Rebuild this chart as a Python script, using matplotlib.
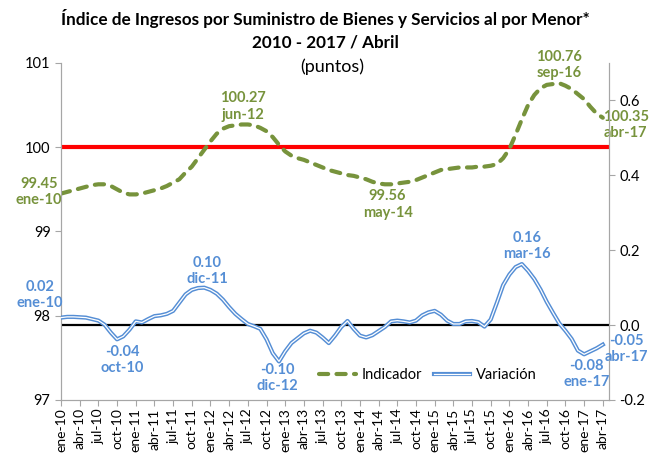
import matplotlib
matplotlib.use("Agg")
import matplotlib.pyplot as plt
import matplotlib.patheffects as pe

plt.rcParams['font.family'] = ['Lato', 'DejaVu Sans']

# months ene-10 .. abr-17
meses = ['ene', 'feb', 'mar', 'abr', 'may', 'jun', 'jul', 'ago', 'sep', 'oct', 'nov', 'dic']
fechas = [f"{m}-{a:02d}" for a in range(10, 18) for m in meses][:88]

# Indicador (puntos), left axis
indicador = [
    99.45, 99.47, 99.49, 99.51, 99.53, 99.55, 99.56, 99.56, 99.54, 99.50, 99.46, 99.44,
    99.44, 99.45, 99.47, 99.49, 99.51, 99.54, 99.58, 99.62, 99.70, 99.77, 99.87, 99.97,
    100.07, 100.16, 100.22, 100.25, 100.26, 100.27, 100.27, 100.26, 100.23, 100.19, 100.12, 100.03,
    99.95, 99.90, 99.87, 99.85, 99.82, 99.79, 99.76, 99.73, 99.71, 99.69, 99.67, 99.66,
    99.64, 99.62, 99.59, 99.57, 99.56, 99.56, 99.57, 99.58, 99.59, 99.61, 99.64, 99.67,
    99.70, 99.73, 99.74, 99.75, 99.76, 99.76, 99.76, 99.77, 99.77, 99.78, 99.80, 99.87,
    99.98, 100.15, 100.33, 100.50, 100.62, 100.70, 100.74, 100.75, 100.76, 100.73, 100.69, 100.63,
    100.57, 100.48, 100.40, 100.35,
]

# Variación, right axis
variacion = [
    0.020, 0.022, 0.022, 0.021, 0.020, 0.016, 0.012, 0.001, -0.020, -0.038, -0.030, -0.012,
    0.010, 0.007, 0.016, 0.024, 0.026, 0.030, 0.038, 0.060, 0.082, 0.094, 0.099, 0.100,
    0.094, 0.084, 0.068, 0.048, 0.030, 0.016, 0.003, -0.003, -0.010, -0.038, -0.075, -0.097,
    -0.070, -0.048, -0.035, -0.022, -0.015, -0.020, -0.033, -0.048, -0.028, -0.005, 0.011, -0.010,
    -0.028, -0.033, -0.027, -0.016, -0.005, 0.010, 0.012, 0.010, 0.007, 0.012, 0.026, 0.034,
    0.038, 0.028, 0.012, 0.003, 0.003, 0.010, 0.011, 0.008, -0.004, 0.015, 0.060, 0.107,
    0.135, 0.155, 0.163, 0.145, 0.123, 0.095, 0.062, 0.033, 0.005, -0.015, -0.037, -0.068,
    -0.078, -0.070, -0.062, -0.052,
]

# labelled points: (month index, offset in points)
etiquetas_ind = [(0, (-16, 1)), (29, (1, 13)), (52, (2, -14.5)), (80, (0, 13)), (87, (16.5, -5))]
etiquetas_var = [(0, (-15, 16)), (9, (3.5, -15)), (23, (2, 12)), (35, (-1.5, -12)),
                 (74, (3.5, 13)), (84, (1.5, -14)), (87, (17, -3))]

verde = '#77933C'
azul = '#558ED5'
gris = '#A6A6A6'

x = list(range(len(fechas)))

fig = plt.figure(figsize=(6.64, 4.53), dpi=100)
ax = fig.add_axes([0.0919, 0.117, 0.8253, 0.744])
ax2 = ax.twinx()

ax.set_xlim(0, 88)
ax.set_ylim(97, 101)
ax.set_yticks([97, 98, 99, 100, 101])
ax2.set_ylim(-0.2, 0.7)
ax2.set_yticks([-0.2, 0.0, 0.2, 0.4, 0.6])
ax2.set_yticklabels(['-0.2', '0.0', '0.2', '0.4', '0.6'])

ax.axhline(100, color='#FF0000', lw=3, zorder=2)
ax2.axhline(0, color='black', lw=1.6, zorder=2)

l1, = ax.plot(x, indicador, color=verde, lw=3, dashes=(2.2, 2.0),
              dash_capstyle='round', label='Indicador', zorder=3)
l2, = ax2.plot(x, variacion, color='white', lw=0.9, label='Variación', zorder=3,
               path_effects=[pe.Stroke(linewidth=3.0, foreground=azul), pe.Normal()])

for i, off in etiquetas_ind:
    ax.annotate(f"{indicador[i]:.2f}\n{fechas[i]}", (x[i], indicador[i]), xytext=off,
                textcoords='offset points', ha='center', va='center', color=verde,
                fontsize=10.5, fontweight='bold', linespacing=1.2)
for i, off in etiquetas_var:
    ax2.annotate(f"{variacion[i]:.2f}\n{fechas[i]}", (x[i], variacion[i]), xytext=off,
                 textcoords='offset points', ha='center', va='center', color=azul,
                 fontsize=10.5, fontweight='bold', linespacing=1.2)

ax.set_xticks(x[::3])
ax.set_xticklabels(fechas[::3], rotation=90)

for a in (ax, ax2):
    a.spines['top'].set_visible(False)
    for s in ('left', 'right', 'bottom'):
        a.spines[s].set_color(gris)
    a.tick_params(colors=gris, labelcolor='black', length=4, labelsize=10.5)
ax.tick_params(axis='x', labelsize=10, pad=2)

ax2.set_zorder(ax.get_zorder() + 1)
ax.patch.set_visible(False)

ax2.legend([l1, l2], ['Indicador', 'Variación'], loc='center', bbox_to_anchor=(0.67, 0.075),
           ncol=2, frameon=False, fontsize=10.5, handlelength=2.5, columnspacing=0.8,
           handletextpad=0.4)

fig.text(0.49, 0.96, 'Índice de Ingresos por Suministro de Bienes y Servicios al por Menor*',
         ha='center', va='center', fontsize=12.3, fontweight='bold')
fig.text(0.49, 0.907, '2010 - 2017 / Abril', ha='center', va='center', fontsize=12.3,
         fontweight='bold')
fig.text(0.50, 0.853, '(puntos)', ha='center', va='center', fontsize=13)

fig.savefig('out.png', dpi=100)
